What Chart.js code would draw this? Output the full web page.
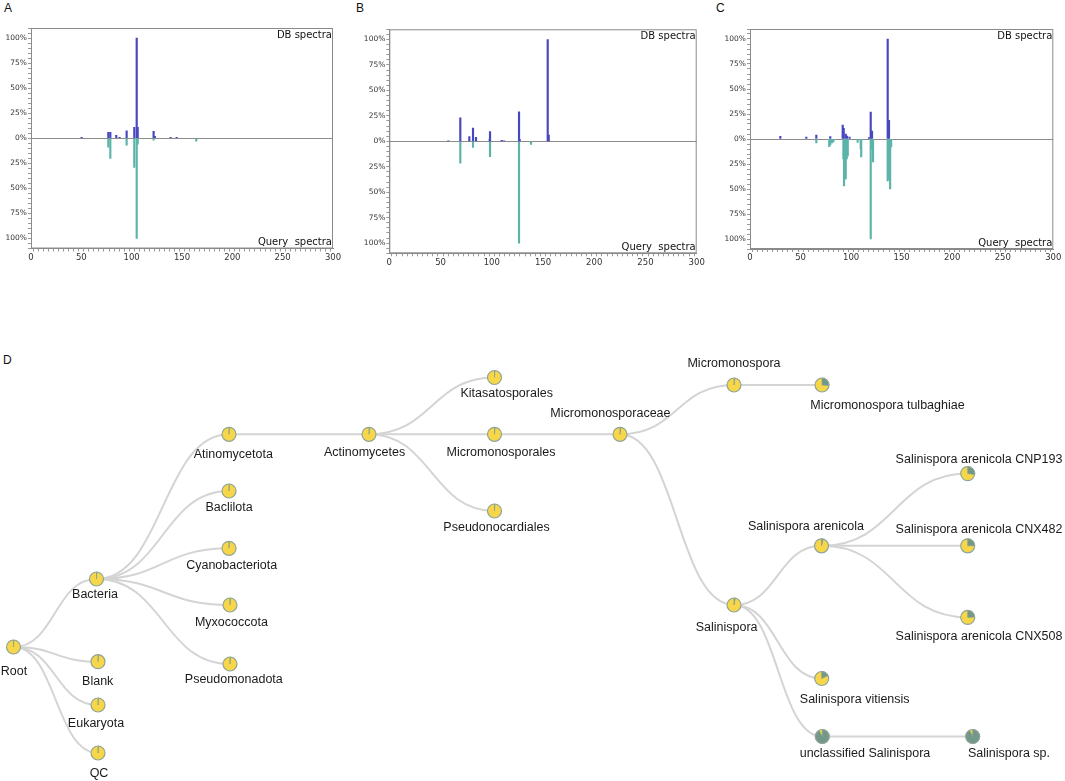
<!DOCTYPE html>
<html>
<head>
<meta charset="utf-8">
<script src="https://cdn.jsdelivr.net/npm/chart.js@4.4.1/dist/chart.umd.min.js"></script>
<style>
  body { margin: 0; background: #fff; width: 1065px; height: 781px; overflow: hidden; position: relative;
         font-family: "Liberation Sans", Arial, sans-serif; }
  canvas { position: absolute; }
  .tag { position: absolute; font-size: 12px; color: #111; line-height: 14px; }
</style>
</head>
<body>
<div class="tag" style="left:4px;top:1px">A</div>
<div class="tag" style="left:356px;top:1px">B</div>
<div class="tag" style="left:716px;top:1px">C</div>
<div class="tag" style="left:3px;top:353px">D</div>

<canvas id="specA" width="345" height="275" style="left:0;top:0"></canvas>
<canvas id="specB" width="350" height="275" style="left:358px;top:0"></canvas>
<canvas id="specC" width="346" height="275" style="left:719px;top:0"></canvas>
<canvas id="tree" width="1065" height="441" style="left:0;top:340px"></canvas>

<script>
// ---- spectra (m/z, relative intensity %) ----
const aDbMz = [50.3, 76.8, 78.8, 84.7, 88, 95, 102.6, 105, 106, 121.8, 123, 138.7, 144.7];
const aDbInt = [1, 6, 6, 3, 1, 7.3, 11, 100, 11, 7, 2, 1, 1];
const aQueryMz = [76.8, 78.8, 95, 102.6, 105, 106, 121.8, 164.2];
const aQueryInt = [-9, -20, -7, -29, -100, -6, -2, -3];

const bDbMz = [57.6, 69.3, 78.1, 81.7, 84.6, 98, 98.3, 109.7, 112, 126.6, 127.2, 154.6, 155.6];
const bDbInt = [0.5, 23, 4.6, 13, 4, 2, 9.5, 1, 0.5, 29, 2, 100, 6];
const bQueryMz = [69.3, 81.7, 98.3, 126.6, 138.3];
const bQueryInt = [-21.5, -6, -15, -100, -3];

const cDbMz = [30, 55.7, 65.6, 79.4, 91.7, 92.7, 94.7, 96, 98.5, 117.7, 119.4, 120.7, 136.2, 137.5];
const cDbInt = [2.7, 2, 4, 2.5, 14, 10.6, 5, 3, 2, 1.5, 27, 8, 100, 18.6];
const cQueryMz = [65.6, 78.4, 79.4, 81, 82.5, 92.4, 93, 93.7, 94.7, 95.7, 96.7, 106.5, 109.5, 110,
                  119.4, 120.7, 121.7, 136.2, 137.3, 138.6, 139.6];
const cQueryInt = [-4, -7.6, -6, -4, -3, -20, -47, -40, -40, -20, -17, -3.3, -10, -18,
                   -100, -10, -23, -42, -40, -50, -8];

const mzTicks = [0, 50, 100, 150, 200, 250, 300];
const intTicks = [-100, -75, -50, -25, 0, 25, 50, 75, 100];

// ---- taxonomy tree ----
const nodeNames = ['Root', 'Bacteria', 'Blank', 'Eukaryota', 'QC',
  'Atinomycetota', 'Baclilota', 'Cyanobacteriota', 'Myxococcota', 'Pseudomonadota',
  'Actinomycetes', 'Kitasatosporales', 'Micromonosporales', 'Pseudonocardiales',
  'Micromonosporaceae', 'Micromonospora', 'Micromonospora tulbaghiae', 'Salinispora',
  'Salinispora arenicola', 'Salinispora arenicola CNP193', 'Salinispora arenicola CNX482',
  'Salinispora arenicola CNX508', 'Salinispora vitiensis', 'unclassified Salinispora', 'Salinispora sp.'];
const nodeParent = [-1, 0, 0, 0, 0, 1, 1, 1, 1, 1, 5, 10, 10, 10, 12, 14, 15, 14, 17, 18, 18, 18, 17, 17, 23];
const nodeX = [13.5, 96.5, 98, 98, 98, 229, 229, 229, 230, 230, 369, 494.5, 494.5, 494.5,
               620, 734, 822, 734, 821.5, 967.7, 967.7, 967.7, 821.7, 822.3, 972.7];
const nodeY = [647, 579, 661.7, 705, 753, 434.3, 491, 548.3, 605, 664, 434.3, 377.5, 434.3, 511,
               434.3, 385, 385, 605, 545.8, 473.6, 545.8, 617.4, 678.5, 736.5, 736.5];
// share of the grey slice in each node pie
const nodeShare = [0.01, 0.01, 0.01, 0.01, 0.01, 0.01, 0.01, 0.01, 0.01, 0.01, 0.015, 0.01, 0.015, 0.01,
                   0.02, 0.02, 0.26, 0.03, 0.04, 0.27, 0.25, 0.24, 0.18, 0.92, 0.93];

// label placement relative to node (layout, px)
const labelDx = [0.5, -1.5, -0.3, -2, 1, 4.3, 0, 2.7, 1.4, 3.8, -4.4, 12.2, 6.5, 2,
                 -9.6, 0, 65.5, -7.4, -15.5, 11.3, 11.3, 11.3, 33, 42.7, 36.3];
const labelDy = [24.7, 16, 20, 18.3, 20.3, 20, 16.3, 17.7, 17.7, 16, 18, 16, 18, 17,
                 -21, -21, 20.5, 23, -19, -14.3, -15.8, 19.3, 20.8, 16.8, 16.8];

const DB_COLOR = '#4747bf';
const QUERY_COLOR = '#5cb4a9';

const spectrumFrame = {
  id: 'spectrumFrame',
  afterDraw(chart) {
    const { ctx, chartArea: a } = chart;
    ctx.save();
    ctx.strokeStyle = '#8a8a8a';
    ctx.lineWidth = 1;
    ctx.strokeRect(a.left + 0.5, a.top + 0.5, a.right - a.left - 1, a.bottom - a.top - 1);
    ctx.fillStyle = '#111';
    ctx.font = '10px "DejaVu Sans"';
    ctx.textAlign = 'right';
    ctx.textBaseline = 'top';
    ctx.fillText(chart.data.datasets[0].label, a.right - 1, a.top + 2);
    ctx.textBaseline = 'bottom';
    ctx.fillText(chart.data.datasets[1].label, a.right - 1, a.bottom - 1);
    ctx.restore();
  }
};

function spectrumChart(id, dbMz, dbInt, qMz, qInt, box) {
  const pts = (xs, ys) => xs.map((x, i) => ({ x, y: ys[i] }));
  return new Chart(document.getElementById(id), {
    type: 'bar',
    data: {
      datasets: [
        { label: 'DB spectra', data: pts(dbMz, dbInt), backgroundColor: DB_COLOR, barThickness: 1.5, grouped: false },
        { label: 'Query  spectra', data: pts(qMz, qInt), backgroundColor: QUERY_COLOR, barThickness: 1.5, grouped: false }
      ]
    },
    options: {
      responsive: false,
      animation: false,
      layout: { padding: { top: box.top, right: box.right, left: 0, bottom: 0 } },
      plugins: { legend: { display: false }, tooltip: { enabled: false } },
      scales: {
        x: {
          type: 'linear', min: mzTicks[0], max: mzTicks[mzTicks.length - 1], offset: false,
          afterFit: s => { s.height = box.xh; },
          ticks: {
            stepSize: 5, autoSkip: false, maxRotation: 0, padding: 1, color: '#333',
            font: { family: 'DejaVu Sans', size: 8.5 },
            callback: v => mzTicks.includes(v) ? String(v) : ''
          },
          grid: { drawOnChartArea: false, tickLength: 3, color: '#999' },
          border: { color: '#8a8a8a' }
        },
        y: {
          min: -110, max: 110,
          afterFit: s => { s.width = box.yw; },
          ticks: {
            stepSize: 5, autoSkip: false, padding: 1, color: '#333',
            font: { family: 'DejaVu Sans', size: 7.5 },
            callback: v => intTicks.includes(v) ? Math.abs(v) + '%' : ''
          },
          grid: {
            color: c => (c.tick && c.tick.value === 0) ? '#8c8c8c' : 'rgba(0,0,0,0)',
            tickColor: '#999', tickLength: 3
          },
          border: { color: '#8a8a8a' }
        }
      }
    },
    plugins: [spectrumFrame]
  });
}

spectrumChart('specA', aDbMz, aDbInt, aQueryMz, aQueryInt, { top: 28, right: 12, yw: 31, xh: 26.5 });
spectrumChart('specB', bDbMz, bDbInt, bQueryMz, bQueryInt, { top: 29.3, right: 11.3, yw: 31.3, xh: 21.7 });
spectrumChart('specC', cDbMz, cDbInt, cQueryMz, cQueryInt, { top: 29, right: 11.7, yw: 31, xh: 26 });

// ---- tree drawing ----
const treeDraw = {
  id: 'treeDraw',
  beforeDatasetsDraw(chart) {
    const ctx = chart.ctx;
    const pts = chart.getDatasetMeta(0).data;
    ctx.save();
    ctx.strokeStyle = '#d4d4d4';
    ctx.lineWidth = 2;
    nodeParent.forEach((p, i) => {
      if (p < 0) return;
      const a = pts[p], b = pts[i];
      const mx = (a.x + b.x) / 2;
      ctx.beginPath();
      ctx.moveTo(a.x, a.y);
      ctx.bezierCurveTo(mx, a.y, mx, b.y, b.x, b.y);
      ctx.stroke();
    });
    ctx.restore();
  },
  afterDatasetsDraw(chart) {
    const ctx = chart.ctx;
    const pts = chart.getDatasetMeta(0).data;
    const r = 7;
    ctx.save();
    pts.forEach((pt, i) => {
      const a0 = -Math.PI / 2, a1 = a0 + nodeShare[i] * 2 * Math.PI;
      ctx.beginPath();
      ctx.arc(pt.x, pt.y, r, 0, 2 * Math.PI);
      ctx.fillStyle = '#f7d64a';
      ctx.fill();
      ctx.beginPath();
      ctx.moveTo(pt.x, pt.y);
      ctx.arc(pt.x, pt.y, r, a0, a1);
      ctx.closePath();
      ctx.fillStyle = '#72978b';
      ctx.fill();
      ctx.strokeStyle = '#86a08f';
      ctx.lineWidth = 0.7;
      ctx.stroke();
      ctx.beginPath();
      ctx.arc(pt.x, pt.y, r, 0, 2 * Math.PI);
      ctx.strokeStyle = '#8fa596';
      ctx.lineWidth = 1.2;
      ctx.stroke();
    });
    ctx.fillStyle = '#1a1a1a';
    ctx.font = '12.5px "Liberation Sans", Arial, sans-serif';
    ctx.textAlign = 'center';
    ctx.textBaseline = 'middle';
    pts.forEach((pt, i) => {
      ctx.fillText(chart.data.labels[i], pt.x + labelDx[i], pt.y + labelDy[i]);
    });
    ctx.restore();
  }
};

new Chart(document.getElementById('tree'), {
  type: 'scatter',
  data: {
    labels: nodeNames,
    datasets: [{ data: nodeX.map((x, i) => ({ x, y: nodeY[i] })), pointRadius: 0 }]
  },
  options: {
    responsive: false,
    animation: false,
    layout: { padding: 0 },
    plugins: { legend: { display: false }, tooltip: { enabled: false } },
    scales: {
      x: { type: 'linear', min: 0, max: 1065, display: false },
      y: { type: 'linear', min: 340, max: 781, reverse: true, display: false }
    }
  },
  plugins: [treeDraw]
});
</script>
</body>
</html>
